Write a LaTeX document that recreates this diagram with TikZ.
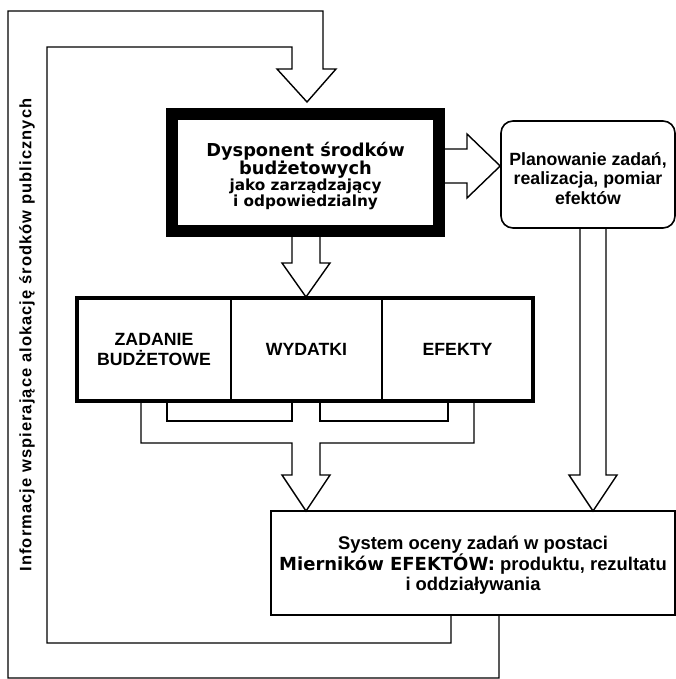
\documentclass[tikz,border=0pt]{standalone}
\usepackage{fontspec}
\setmainfont{Liberation Sans}
\newfontfamily\heavy{DejaVu Sans}
\newfontfamily\labfont{Liberation Sans}[LetterSpace=6.5]
\newcommand{\bigheavy}{\heavy\bfseries\fontsize{17.8}{21}\selectfont}
\newcommand{\smallheavy}{\heavy\bfseries\fontsize{15.3}{21}\selectfont}
\begin{document}
\begin{tikzpicture}[x=1pt,y=-1pt,line join=miter,
  pipe/.style={draw=black,line width=1.4pt},
  txt/.style={font=\bfseries\fontsize{17.7}{19.5}\selectfont,align=center,inner sep=0pt},
  cell/.style={txt,minimum height=103pt}]
\useasboundingbox (0,0) rectangle (676,679);
\fill[white] (0,0) rectangle (676,679);

% boxes
\node[draw,line width=12pt,minimum width=267pt,minimum height=117pt,inner sep=0pt] (disp) at (305.5,172.5) {};
\node[align=center,inner sep=0pt] (disptext) at ([yshift=-3.5pt]disp.center)
  {\bigheavy Dysponent środków\\\bigheavy budżetowych\\\smallheavy jako zarządzający\\\smallheavy i odpowiedzialny};
\node[draw,rounded corners=12pt,line width=1.6pt,minimum width=174pt,minimum height=107pt,inner sep=0pt] (plan) at (588,174.5) {};
\node[txt] (plantext) at ([yshift=-4pt]plan.center) {Planowanie zadań,\\realizacja, pomiar\\efektów};
\node[cell,minimum width=154pt] (zad) at (154,349.5) {ZADANIE\\BUDŻETOWE};
\node[cell,minimum width=151pt] (wyd) at (306.5,349.5) {WYDATKI};
\node[cell,minimum width=151pt] (efe) at (457.5,349.5) {EFEKTY};
\node[draw,line width=1.6pt,minimum width=404pt,minimum height=104pt,inner sep=0pt] (sys) at (473,563) {};
\node[align=center,inner sep=0pt,font=\bfseries\fontsize{18.4}{20}\selectfont] (systext) at ([yshift=-2pt]sys.center)
  {System oceny zadań w postaci\\{\heavy\bfseries\fontsize{18}{20}\selectfont Mierników EFEKTÓW:} produktu, rezultatu\\i oddziaływania};
\node[rotate=90,inner sep=0pt,font=\labfont\bfseries\fontsize{16.5}{16.5}\selectfont] (lab) at (27,335)
  {Informacje wspierające alokację środków publicznych};

% row frame and dividers
\draw[line width=1.8pt] (zad.north east) -- (zad.south east);
\draw[line width=1.8pt] (wyd.north east) -- (wyd.south east);
\draw[line width=3.5pt] (zad.north west) rectangle (efe.south east);

% return pipe from System to Dysponent
\draw[pipe] ([xshift=26pt]sys.south) |- (8,678) |- (323,11) -- (323,69) -- (336,69)
  -- ([xshift=1.5pt,yshift=6pt]disp.north) -- (277,69) -- (292,69) |- (47,47) |- (451,643)
  -- ([xshift=-22pt]sys.south);

% Dysponent -> row
\draw[pipe] (292,237) -- (292,263) -- (282,263) -- (306,297) -- (330,263) -- (320,263) -- (320,237);

% Dysponent -> Planowanie
\draw[pipe] (445,149) -- (467,149) -- (467,134) -- (plan.west |- 0,166) -- (467,198) -- (467,183) -- (445,183);

% Planowanie -> System
\draw[pipe] (580,228) -- (580,475) -- (569,475) -- (593,511) -- (617,475) -- (606,475) -- (606,228);

% merge pipe row -> System
\draw[pipe] (141,401) -- (141,443) -- (292,443) -- (292,475) -- (282,475) -- (306,511)
  -- (330,475) -- (320,475) -- (320,443) -- (474,443) -- (474,401);
\draw[pipe] (167,401) -- (167,421) -- (292,421) -- (292,401);
\draw[pipe] (320,401) -- (320,421) -- (448,421) -- (448,401);
\end{tikzpicture}
\end{document}
